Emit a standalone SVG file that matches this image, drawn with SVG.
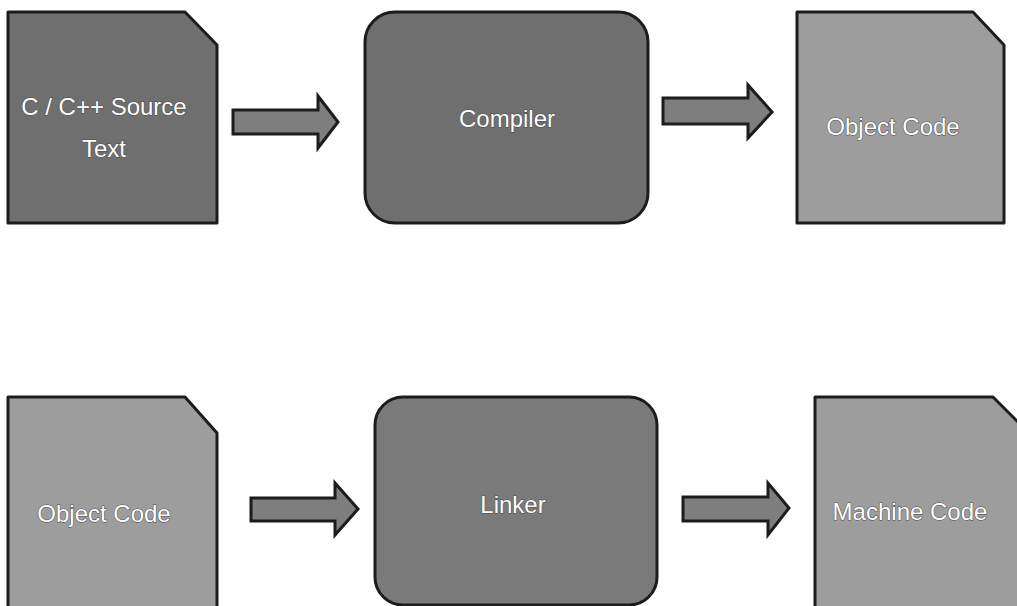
<svg xmlns="http://www.w3.org/2000/svg" width="1017" height="606" viewBox="0 0 1017 606">
  <style>
    .shape { stroke: #1c1c1c; stroke-width: 3; stroke-linejoin: round; }
    .dark { fill: #6f6f6f; }
    .mid { fill: #7a7a7a; }
    .light { fill: #9d9d9d; }
    .arrow { fill: #7e7e7e; stroke: #1c1c1c; stroke-width: 3; stroke-linejoin: miter; }
    .label { font-family: "Liberation Sans", Arial, sans-serif; font-size: 24px; fill: #ffffff; text-anchor: middle; paint-order: stroke; stroke: #4a4a4a; stroke-width: 1px; }
  </style>
  <rect width="1017" height="606" fill="#ffffff"/>

  <g id="source">
    <path class="shape dark" d="M8,12 L185,12 L217,45 L217,223 L8,223 Z"/>
    <text class="label" x="104" y="115">C / C++ Source</text>
    <text class="label" x="104" y="157">Text</text>
  </g>

  <g id="compiler">
    <rect class="shape dark" x="365" y="12" width="283" height="211" rx="30" ry="30"/>
    <text class="label" x="507" y="127">Compiler</text>
  </g>

  <g id="object-code-1">
    <path class="shape light" d="M797,12 L973,12 L1004,45 L1004,223 L797,223 Z"/>
    <text class="label" x="893" y="135">Object Code</text>
  </g>

  <g id="object-code-2">
    <path class="shape light" d="M8,397 L185,397 L217,433 L217,620 L8,620 Z"/>
    <text class="label" x="104" y="522">Object Code</text>
  </g>

  <g id="linker">
    <rect class="shape mid" x="375" y="397" width="282" height="208" rx="28" ry="28"/>
    <text class="label" x="513" y="513">Linker</text>
  </g>

  <g id="machine-code">
    <path class="shape light" d="M815,397 L993,397 L1026,430 L1026,620 L815,620 Z"/>
    <text class="label" x="910" y="520">Machine Code</text>
  </g>

  <g id="connectors">
    <path class="arrow" d="M233,110 L318,110 L318,96 L338,122 L318,148 L318,134 L233,134 Z"/>
    <path class="arrow" d="M663,98 L748,98 L748,85 L772,112 L748,138 L748,124 L663,124 Z"/>
    <path class="arrow" d="M251,498 L335,498 L335,483 L358,509 L335,535 L335,521 L251,521 Z"/>
    <path class="arrow" d="M683,497 L768,497 L768,483 L789,508 L768,535 L768,521 L683,521 Z"/>
  </g>
</svg>
